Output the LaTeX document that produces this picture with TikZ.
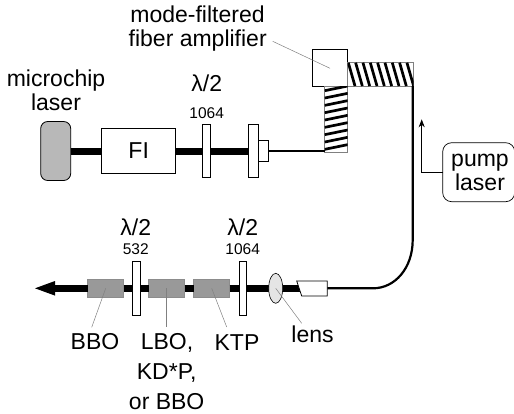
\documentclass[tikz,border=0pt]{standalone}
\usepackage{fontspec}
\setmainfont{Liberation Sans}
\usetikzlibrary{arrows.meta,shapes.geometric}
\tikzset{
  x=1pt,y=-1pt,
  box/.style={draw=black,line width=0.8pt,fill=white,inner sep=0pt,outer sep=0pt,minimum width=#1},
  box/.default=10pt,
  crystal/.style={draw=black!45,line width=0.5pt,fill=black!40,inner sep=0pt,outer sep=0pt,minimum width=36pt,minimum height=18.4pt},
  wave/.style={box=7.7pt,minimum height=53.4pt},
  lbl/.style={anchor=base,inner sep=0pt,font=\fontsize{23}{27}\selectfont},
  small/.style={anchor=base,inner sep=0pt,font=\fontsize{15.5}{18}\selectfont},
  beam/.style={line width=7pt},
  fiber/.style={line width=2.2pt},
  leader/.style={draw=black!50,line width=0.5pt},
  coil/.style={line width=2.7pt},
  coilbox/.style={draw=black!50,line width=0.5pt}
}
\begin{document}
\begin{tikzpicture}
\useasboundingbox (0,0) rectangle (514,413);
% upper line components
\node[draw=black,line width=0.8pt,fill=black!28,rounded corners=7pt,inner sep=0pt,outer sep=0pt,minimum width=30pt,minimum height=59pt] (laser) at (55.7,151) {};
\node[box=74pt,minimum height=45pt] (fi) at (138.7,151) {};
\node[wave] (wpa) at (206.2,151) {};
\node[box=10pt,minimum height=53.7pt] (wpb) at (253.7,151) {};
\node[box=10pt,minimum height=21.4pt] (coll) at (263.7,151) {};
\node[box=35.7pt,minimum height=36.7pt] (amp) at (329.9,67.7) {};
\coordinate (fibertop) at (325,151);
\coordinate (corner) at (412.7,86);
% coils
\draw[coilbox] (324.7,86) rectangle (347.7,152);
\draw[coilbox] (347.7,62.7) rectangle (413.3,86);
\begin{scope}
\clip (324.7,86) rectangle (347.7,152);
\foreach \k in {0,...,8}
  \draw[coil] (324.7,{90.7+7.33*\k}) -- (347.7,{86+7.33*\k});
\end{scope}
\begin{scope}
\clip (347.7,62.7) rectangle (413.7,86);
\foreach \k in {0,...,8}
  \draw[coil] ({348.3+7.33*\k},62.7) -- ({355+7.33*\k},86);
\end{scope}
\draw[beam] (laser.east) -- (fi.west);
\draw[beam] (fi.east) -- (wpa.west);
\draw[beam] (wpa.east) -- (wpb.west);
\draw[fiber] (coll.east) -- (fibertop);
% lower line components
\coordinate (tip) at (35,288.3);
\coordinate (tail) at (55,288.3);
\node[crystal] (bbo) at (105.7,288.3) {};
\node[wave] (wpc) at (136.2,288.3) {};
\node[crystal] (lbo) at (166.7,288.3) {};
\node[crystal] (ktp) at (211.7,288.3) {};
\node[wave] (wpd) at (242.8,288.3) {};
\draw[beam] (tail) -- (bbo.west);
\fill (tip) -- (55,281) -- (55,295.6) -- cycle;
\draw[beam] (bbo.east) -- (wpc.west);
\draw[beam] (wpc.east) -- (lbo.west);
\draw[beam] (lbo.east) -- (ktp.west);
\draw[beam] (ktp.east) -- (wpd.west);
\coordinate (collb) at (300,288.3);
\draw[beam] (wpd.east) -- (collb);
\node[draw=black,line width=0.6pt,fill=black!10,ellipse,inner sep=0pt,outer sep=0pt,minimum width=14pt,minimum height=30pt] (lens) at (275.7,288.3) {};
\coordinate (collr) at (327.3,288.3);
\filldraw[fill=white,draw=black,line width=0.8pt] (296.7,281) -- (327.3,281) -- (327.3,296) -- (301.7,296) -- cycle;
\draw[fiber] (corner) -- (412.7,240) .. controls (412.7,268) and (395,288.3) .. (373,288.3) -- (collr);
% pump laser
\node[draw=black,line width=0.7pt,fill=white,rounded corners=9pt,inner sep=0pt,outer sep=0pt,minimum width=72pt,minimum height=59pt] (pump) at (478.7,172.2) {};
\coordinate (pumpup) at (421.7,119.3);
\draw[line width=0.7pt,-{Stealth[length=8pt,width=6pt]}] (pump.west) -| (pumpup);
% leaders
\node[lbl] (tmode) at (197.5,22.7) {mode-filtered};
\node[lbl] (tfib) at (197.7,46) {fiber amplifier};
\coordinate (lamp) at (272.7,41.3);
\coordinate (lampe) at (330,68.3);
\draw[leader] (lamp) -- (lampe);
\node[lbl] (tmicro) at (56,86.7) {microchip};
\node[lbl] (tlaser) at (56,110.7) {laser};
\node[lbl] (tfi) at (138.7,158.3) {FI};
\node[lbl] (la) at (206.7,91) {λ/2};
\node[small] (na) at (206.7,118.3) {1064};
\node[lbl] (lb) at (135.7,235) {λ/2};
\node[small] (nb) at (135.7,254.3) {532};
\node[lbl] (lc) at (242.7,235) {λ/2};
\node[small] (nc) at (242.7,254.3) {1064};
\node[lbl] (tpump) at (480,166.7) {pump};
\node[lbl] (tplaser) at (480,190) {laser};
\node[lbl] (tbbo) at (95,349.3) {BBO};
\node[lbl] (tlbo) at (167,349.3) {LBO,};
\node[lbl] (tkd) at (166.7,379.3) {KD*P,};
\node[lbl] (tor) at (166.7,409) {or BBO};
\node[lbl] (tktp) at (237,350) {KTP};
\node[lbl] (tlens) at (312.5,342.7) {lens};
\draw[leader] (bbo.center) -- (91.7,327.3);
\draw[leader] (lbo.center) -- (166.7,327);
\draw[leader] (ktp.center) -- (226.7,327);
\draw[leader] (lens.center) -- (301.7,323.3);
\end{tikzpicture}
\end{document}
